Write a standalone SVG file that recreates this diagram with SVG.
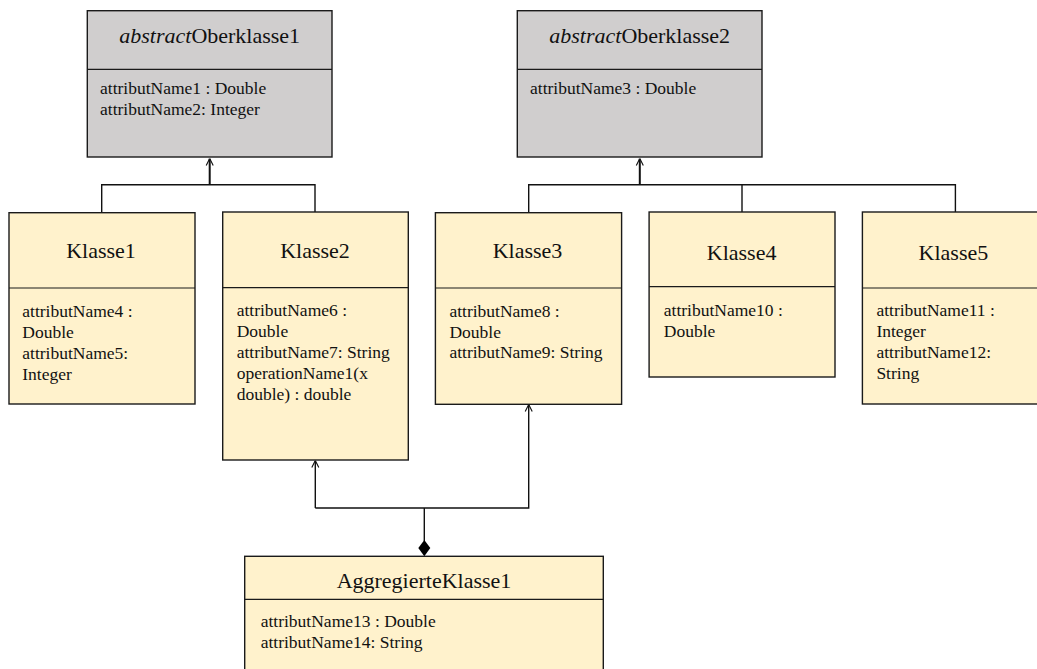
<svg xmlns="http://www.w3.org/2000/svg" width="1037" height="669" viewBox="0 0 1037 669">
<style>
.box{stroke:#1a1a1a;stroke-width:1.4}
.abs{fill:#d0cece}
.cls{fill:#fff2cc}
.div{stroke:#1a1a1a;stroke-width:1.2}
.title{font-family:"Liberation Serif","Times New Roman",serif;font-size:22px;fill:#111;text-anchor:middle}
.attr{font-family:"Liberation Serif","Times New Roman",serif;font-size:17.5px;fill:#111}
.con{fill:none;stroke:#111;stroke-width:1.4}
.stem{fill:none;stroke:#111;stroke-width:2}
</style>
<defs>
<marker id="open" viewBox="0 0 10 10" refX="10" refY="5" markerUnits="userSpaceOnUse" markerWidth="7" markerHeight="10" orient="auto">
<path d="M0,0 L10,5 L0,10" fill="none" stroke="#111" stroke-width="1.6"/>
</marker>
</defs>
<rect width="1037" height="669" fill="#fff"/>
<g id="connectors">
<path class="con" d="M101.7 212.7 V184.7 H315 V212"/>
<path class="stem" d="M209.7 184.7 V158.5" marker-end="url(#open)"/>
<path class="con" d="M528.7 212.7 V184.7 H955.4 V212"/>
<path class="con" d="M742 184.7 V212"/>
<path class="stem" d="M639.8 184.7 V158.5" marker-end="url(#open)"/>
<path class="con" d="M315.3 508 V460.5" marker-end="url(#open)"/>
<path class="con" d="M315.3 508 H528.7 V404.5" marker-end="url(#open)"/>
<path class="con" d="M424.3 508 V541"/>
<polygon points="418.3,548 424.3,540 430.3,548 424.3,556.3" fill="#000"/>
</g>
<g id="Oberklasse1">
<rect class="box abs" x="87.3" y="10.7" width="244.7" height="146.3"/>
<line class="div" x1="87.3" y1="69.3" x2="332" y2="69.3"/>
<text class="title" x="209.7" y="43.3"><tspan font-style="italic">abstract</tspan>Oberklasse1</text>
<text class="attr" x="100" y="94.3">attributName1 : Double</text>
<text class="attr" x="100" y="115.3">attributName2: Integer</text>
</g>
<g id="Oberklasse2">
<rect class="box abs" x="517.3" y="10.7" width="244.7" height="146.3"/>
<line class="div" x1="517.3" y1="69.3" x2="762" y2="69.3"/>
<text class="title" x="639.7" y="43.3"><tspan font-style="italic">abstract</tspan>Oberklasse2</text>
<text class="attr" x="530" y="94.3">attributName3 : Double</text>
</g>
<g id="Klasse1">
<rect class="box cls" x="9" y="212.7" width="186" height="191.3"/>
<line class="div" x1="9" y1="288" x2="195" y2="288"/>
<text class="title" x="101" y="258">Klasse1</text>
<text class="attr" x="22.3" y="316.7">attributName4 :</text>
<text class="attr" x="22.3" y="337.5">Double</text>
<text class="attr" x="22.3" y="358.5">attributName5:</text>
<text class="attr" x="22.3" y="379.5">Integer</text>
</g>
<g id="Klasse2">
<rect class="box cls" x="222.7" y="212" width="185.6" height="248"/>
<line class="div" x1="222.7" y1="287.7" x2="408.3" y2="287.7"/>
<text class="title" x="315" y="258">Klasse2</text>
<text class="attr" x="236.7" y="316">attributName6 :</text>
<text class="attr" x="236.7" y="337">Double</text>
<text class="attr" x="236.7" y="358">attributName7: String</text>
<text class="attr" x="236.7" y="379">operationName1(x</text>
<text class="attr" x="236.7" y="400">double) : double</text>
</g>
<g id="Klasse3">
<rect class="box cls" x="435.4" y="212.7" width="186.2" height="191.6"/>
<line class="div" x1="435.4" y1="288" x2="621.6" y2="288"/>
<text class="title" x="527.5" y="258">Klasse3</text>
<text class="attr" x="449.4" y="316.7">attributName8 :</text>
<text class="attr" x="449.4" y="337.5">Double</text>
<text class="attr" x="449.4" y="358.3">attributName9: String</text>
</g>
<g id="Klasse4">
<rect class="box cls" x="649.1" y="212" width="185.9" height="165"/>
<line class="div" x1="649.1" y1="286.7" x2="835" y2="286.7"/>
<text class="title" x="741.6" y="260">Klasse4</text>
<text class="attr" x="663.8" y="315.7">attributName10 :</text>
<text class="attr" x="663.8" y="336.7">Double</text>
</g>
<g id="Klasse5">
<rect class="box cls" x="862.4" y="212" width="186" height="192"/>
<line class="div" x1="862.4" y1="288" x2="1048.4" y2="288"/>
<text class="title" x="953.4" y="260">Klasse5</text>
<text class="attr" x="876.4" y="316">attributName11 :</text>
<text class="attr" x="876.4" y="337">Integer</text>
<text class="attr" x="876.4" y="358">attributName12:</text>
<text class="attr" x="876.4" y="379">String</text>
</g>
<g id="AggregierteKlasse1">
<rect class="box cls" x="244.7" y="556.3" width="358.6" height="130"/>
<line class="div" x1="244.7" y1="599.3" x2="603.3" y2="599.3"/>
<text class="title" x="424" y="587.7">AggregierteKlasse1</text>
<text class="attr" x="260.7" y="627.3">attributName13 : Double</text>
<text class="attr" x="260.7" y="648.3">attributName14: String</text>
</g>
</svg>
